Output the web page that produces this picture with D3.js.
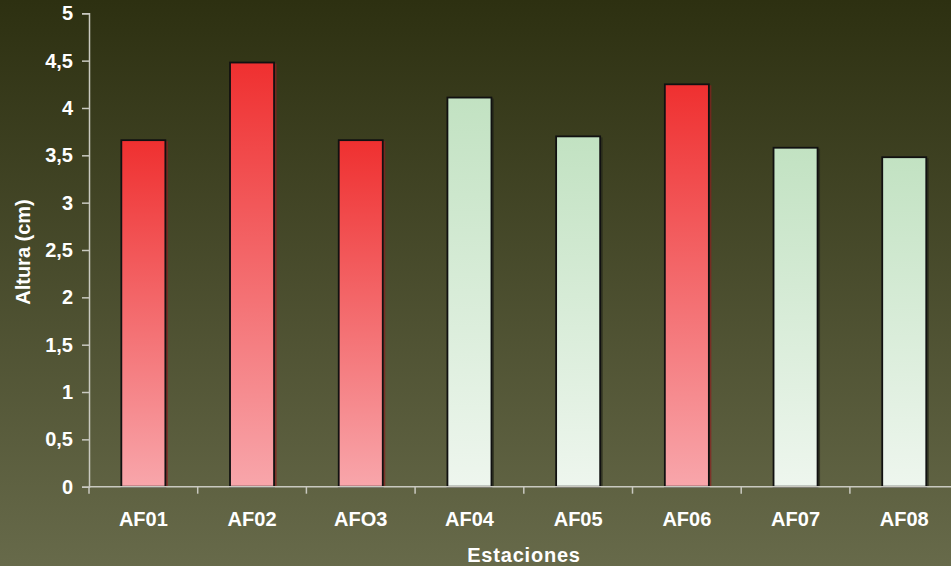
<!DOCTYPE html>
<html>
<head>
<meta charset="utf-8">
<script src="https://cdn.jsdelivr.net/npm/d3@7"></script>
<style>
  body { margin: 0; overflow: hidden; }
  text { font-family: "Liberation Sans", Arial, sans-serif; font-weight: bold; fill: #ffffff; }
</style>
</head>
<body>
<svg id="chart" width="951" height="566"></svg>
<script>
// data
var estaciones = ["AF01", "AF02", "AFO3", "AF04", "AF05", "AF06", "AF07", "AF08"];
var altura = [3.66, 4.48, 3.66, 4.11, 3.70, 4.25, 3.58, 3.48];
var grupo = ["rojo", "rojo", "rojo", "verde", "verde", "rojo", "verde", "verde"];
var yTicks = [0, 0.5, 1, 1.5, 2, 2.5, 3, 3.5, 4, 4.5, 5];

var svg = d3.select("#chart");
var W = 951, H = 566;
var mLeft = 89, mTop = 13.3, mBottom = 486.7;
var bandW = 108.7;

var defs = svg.append("defs");

var bg = defs.append("linearGradient").attr("id", "bg")
    .attr("x1", 0).attr("y1", 0).attr("x2", 0).attr("y2", 1);
bg.append("stop").attr("offset", "0%").attr("stop-color", "#2d3011");
bg.append("stop").attr("offset", "100%").attr("stop-color", "#676a4a");

var rojo = defs.append("linearGradient").attr("id", "rojo")
    .attr("x1", 0).attr("y1", 0).attr("x2", 0).attr("y2", 1);
rojo.append("stop").attr("offset", "0%").attr("stop-color", "#ef3030");
rojo.append("stop").attr("offset", "100%").attr("stop-color", "#f8a6ab");

var verde = defs.append("linearGradient").attr("id", "verde")
    .attr("x1", 0).attr("y1", 0).attr("x2", 0).attr("y2", 1);
verde.append("stop").attr("offset", "0%").attr("stop-color", "#c2e2c2");
verde.append("stop").attr("offset", "100%").attr("stop-color", "#eef6ee");

svg.append("rect").attr("width", W).attr("height", H).attr("fill", "url(#bg)");

var x = d3.scaleBand()
    .domain(estaciones)
    .range([mLeft, mLeft + bandW * estaciones.length])
    .paddingInner(0.595)
    .paddingOuter(0.2975);

var y = d3.scaleLinear().domain([0, 5]).range([mBottom, mTop]);

var fmt = function(d) { return String(d).replace(".", ","); };

// bars (with a small dark side shadow)
var bars = svg.append("g");
bars.selectAll("rect.sombra")
    .data(estaciones)
    .enter().append("rect")
    .attr("class", "sombra")
    .attr("x", function(d) { return x(d) + 2.5; })
    .attr("y", function(d, i) { return y(altura[i]) + 1; })
    .attr("width", x.bandwidth())
    .attr("height", function(d, i) { return mBottom - y(altura[i]) - 1; })
    .attr("fill", function(d, i) { return grupo[i] == "rojo" ? "#8a2020" : "#23261a"; })
    .attr("opacity", 0.7);

bars.selectAll("rect.barra")
    .data(estaciones)
    .enter().append("rect")
    .attr("class", "barra")
    .attr("x", function(d) { return x(d); })
    .attr("y", function(d, i) { return y(altura[i]); })
    .attr("width", x.bandwidth())
    .attr("height", function(d, i) { return mBottom - y(altura[i]); })
    .attr("fill", function(d, i) { return "url(#" + grupo[i] + ")"; })
    .attr("stroke", "#111")
    .attr("stroke-width", 1.8);

// y axis
var yAxis = svg.append("g").attr("transform", "translate(" + mLeft + ",0)")
    .call(d3.axisLeft(y).tickValues(yTicks).tickFormat(fmt).tickSize(7).tickPadding(9));
yAxis.select(".domain").attr("stroke", "#c9c9c0").attr("stroke-width", 1.5);
yAxis.selectAll(".tick line").attr("stroke", "#c9c9c0").attr("stroke-width", 1.5);
yAxis.selectAll(".tick text").attr("font-size", 20).attr("fill", "#fff")
    .attr("font-family", "Liberation Sans, Arial, sans-serif").attr("font-weight", "bold");

// x axis
var xAxis = svg.append("g").attr("transform", "translate(0," + mBottom + ")");
xAxis.append("line")
    .attr("x1", mLeft).attr("x2", W)
    .attr("stroke", "#c9c9c0").attr("stroke-width", 1.5);
xAxis.selectAll("line.tick")
    .data(d3.range(estaciones.length + 1))
    .enter().append("line")
    .attr("class", "tick")
    .attr("x1", function(i) { return mLeft + i * bandW; })
    .attr("x2", function(i) { return mLeft + i * bandW; })
    .attr("y1", 0).attr("y2", 7)
    .attr("stroke", "#c9c9c0").attr("stroke-width", 1.5);
xAxis.selectAll("text")
    .data(estaciones)
    .enter().append("text")
    .attr("x", function(d) { return x(d) + x.bandwidth() / 2; })
    .attr("y", 39.5)
    .attr("text-anchor", "middle")
    .attr("font-size", 20)
    .text(function(d) { return d; });

// axis titles
svg.append("text")
    .attr("transform", "translate(30,252) rotate(-90)")
    .attr("text-anchor", "middle")
    .attr("font-size", 20)
    .text("Altura (cm)");

svg.append("text")
    .attr("x", 524).attr("y", 562)
    .attr("text-anchor", "middle")
    .attr("font-size", 20)
    .attr("letter-spacing", 0.8)
    .text("Estaciones");
</script>
</body>
</html>
